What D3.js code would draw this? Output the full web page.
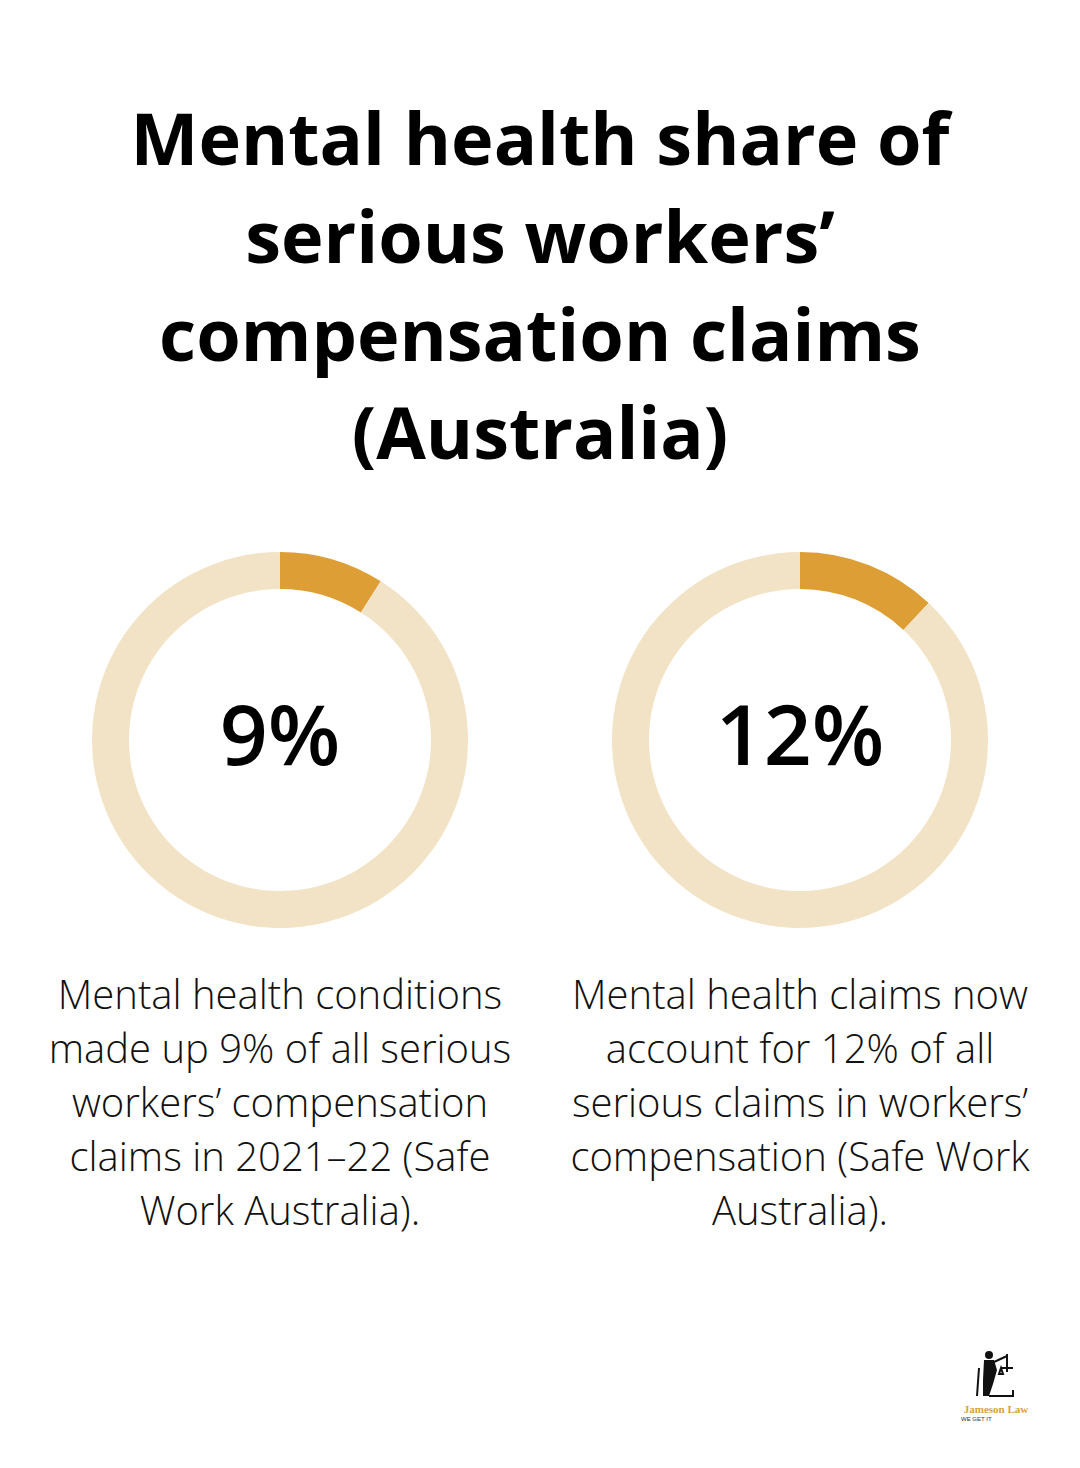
<!DOCTYPE html>
<html><head><meta charset="utf-8">
<script src="https://cdn.jsdelivr.net/npm/d3@7"></script>
<style>body{margin:0;background:#fff;}svg{display:block;}</style>
</head><body>
<script>
const titleLines = ["Mental health share of", "serious workers\u2019", "compensation claims", "(Australia)"];
const values = [9, 12];
const labels = ["9%", "12%"];
const descriptions = [
  ["Mental health conditions", "made up 9% of all serious", "workers\u2019 compensation", "claims in 2021\u201322 (Safe", "Work Australia)."],
  ["Mental health claims now", "account for 12% of all", "serious claims in workers\u2019", "compensation (Safe Work", "Australia)."]
];
const W = 1080, H = 1468;
const svg = d3.select("body").append("svg").attr("width", W).attr("height", H);
svg.append("rect").attr("width", W).attr("height", H).attr("fill", "#fff");

svg.append("g").selectAll("text").data(titleLines).join("text")
  .attr("x", W/2).attr("y", (d,i)=>165 + i*98)
  .attr("text-anchor","middle").attr("font-family","'Open Sans'").attr("font-weight",700)
  .attr("font-size",72).attr("fill","#000").text(d=>d);

const xPos = d3.scalePoint().domain(d3.range(values.length)).range([280, 800]);
const arc = d3.arc().innerRadius(151).outerRadius(188);
const pie = d3.pie().sort(null).value(d=>d);

values.forEach((v,i)=>{
  const g = svg.append("g").attr("transform", `translate(${xPos(i)},740)`);
  g.selectAll("path").data(pie([v, 100-v])).join("path")
    .attr("d", arc).attr("fill", (d,j)=> j===0 ? "#DE9E36" : "#F3E3C6");
  g.append("text").attr("y", 25).attr("text-anchor","middle")
    .attr("font-family","'Open Sans'").attr("font-weight",600).attr("font-size",84)
    .attr("fill","#000").text(labels[i]);
  svg.append("g").selectAll("text").data(descriptions[i]).join("text")
    .attr("x", xPos(i)).attr("y",(d,k)=>1009 + k*54).attr("text-anchor","middle")
    .attr("font-family","'Open Sans'").attr("font-weight",300).attr("font-size",40)
    .attr("fill","#111").text(d=>d);
});

// logo
const logo = svg.append("g").attr("transform","translate(995,1350)");
logo.append("circle").attr("cx",-6).attr("cy",5).attr("r",4).attr("fill","#111");
logo.append("path").attr("d","M-11,10 L-1,10 L2,20 L-2,34 L-6,46 L-12,46 L-12,30 Z").attr("fill","#111");
logo.append("path").attr("d","M-1,12 L12,6 M12,4 L12,22 M6,18 L18,18 M6,18 L8,24 L4,24 Z M-16,18 L-18,46 M-6,46 L18,46 L18,40")
  .attr("fill","none").attr("stroke","#111").attr("stroke-width",2);
logo.append("text").attr("x",1).attr("y",63).attr("text-anchor","middle")
  .attr("font-family","'Liberation Serif'").attr("font-weight",700).attr("font-size",11)
  .attr("fill","#D9A23A").text("Jameson Law");
logo.append("text").attr("x",-34).attr("y",71)
  .attr("font-family","'Liberation Sans'").attr("font-size",6)
  .attr("fill","#333").text("WE GET IT");
</script>
</body></html>
